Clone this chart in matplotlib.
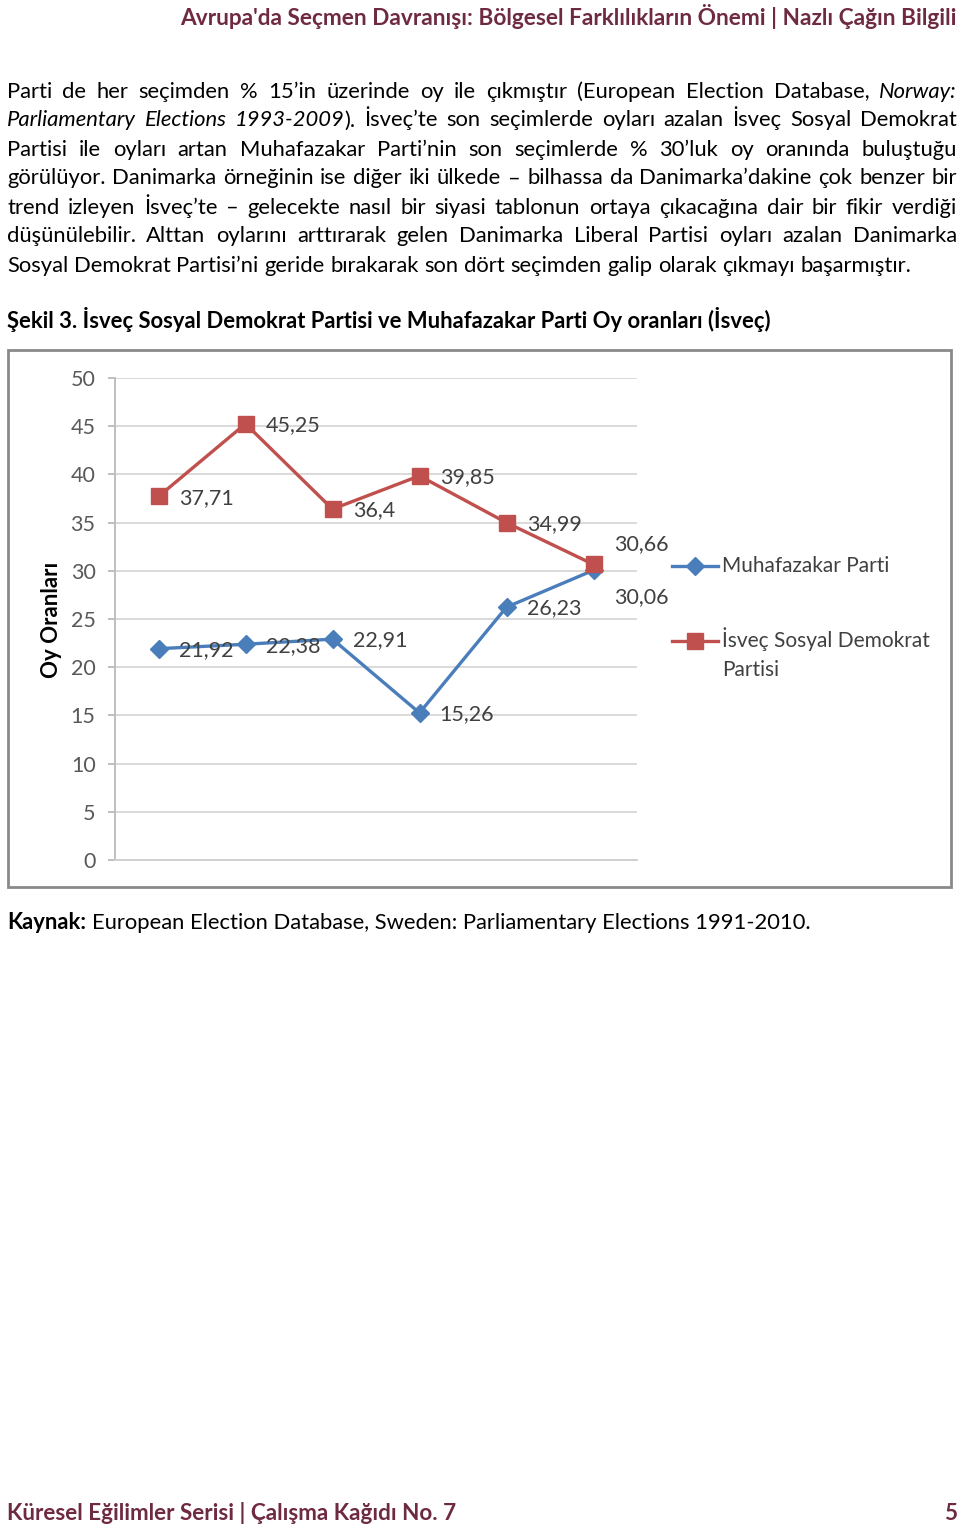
import matplotlib.pyplot as plt
from matplotlib.lines import Line2D
from matplotlib.patches import Rectangle

plt.rcParams['font.family'] = ['Lato', 'DejaVu Sans']

# election years (no x labels are shown in the chart)
secim = ['1991', '1994', '1998', '2002', '2006', '2010']
muhafazakar = [21.92, 22.38, 22.91, 15.26, 26.23, 30.06]
sosyal_demokrat = [37.71, 45.25, 36.4, 39.85, 34.99, 30.66]
y_ticks = [0, 5, 10, 15, 20, 25, 30, 35, 40, 45, 50]

header = "Avrupa'da Seçmen Davranışı: Bölgesel Farklılıkların Önemi | Nazlı Çağın Bilgili"
# _text_ = italic
body = [
    "Parti de her seçimden % 15’in üzerinde oy ile çıkmıştır (European Election Database, _Norway:_",
    "_Parliamentary_ _Elections_ _1993-2009_). İsveç’te son seçimlerde oyları azalan İsveç Sosyal Demokrat",
    "Partisi ile oyları artan Muhafazakar Parti’nin son seçimlerde % 30’luk oy oranında buluştuğu",
    "görülüyor. Danimarka örneğinin ise diğer iki ülkede – bilhassa da Danimarka’dakine çok benzer bir",
    "trend izleyen İsveç’te – gelecekte nasıl bir siyasi tablonun ortaya çıkacağına dair bir fikir verdiği",
    "düşünülebilir. Alttan oylarını arttırarak gelen Danimarka Liberal Partisi oyları azalan Danimarka",
    "Sosyal Demokrat Partisi’ni geride bırakarak son dört seçimden galip olarak çıkmayı başarmıştır.",
]
caption = "Şekil 3. İsveç Sosyal Demokrat Partisi ve Muhafazakar Parti Oy oranları (İsveç)"
kaynak = "European Election Database, Sweden: Parliamentary Elections 1991-2010."
footer = "Küresel Eğilimler Serisi | Çalışma Kağıdı No. 7"

maroon = '#6e2a41'
blue = '#4a7ebb'
red = '#c0504d'

W, H = 960, 1533
fig = plt.figure(figsize=(W / 100, H / 100), dpi=100)
fig.patch.set_facecolor('white')
rend = fig.canvas.get_renderer()


def fx(x):
    return x / W


def fy(y):
    return 1 - y / H


def text_w(s, **kw):
    t = fig.text(0, 0, s, **kw)
    w = t.get_window_extent(rend).width
    t.remove()
    return w


def fit(s, target, **kw):
    return 10 * target / text_w(s, fontsize=10, **kw)


def draw_line(line, y, size, justify=True):
    words = []
    for w in line.split(' '):
        parts = w.split('_')
        words.append([(p, 'italic' if k % 2 else 'normal') for k, p in enumerate(parts) if p])
    widths = [[text_w(p, fontsize=size, style=st) for p, st in segs] for segs in words]
    total = sum(sum(ws) for ws in widths)
    if justify:
        gap = (957 - 7 - total) / (len(words) - 1)
    else:
        gap = text_w('a a', fontsize=size) - text_w('aa', fontsize=size)
    x = 7
    for segs, ws in zip(words, widths):
        for (p, st), w in zip(segs, ws):
            fig.text(fx(x), fy(y), p, fontsize=size, style=st, va='baseline', color='black')
            x += w
        x += gap


# header
hs = fit(header, 780, weight='bold')
fig.text(fx(957), fy(25), header, fontsize=hs, weight='bold', color=maroon, ha='right', va='baseline')

# paragraph
bs = fit(body[-1], 908)
for i, line in enumerate(body):
    draw_line(line, 97.5 + 29 * i, bs, justify=(i < len(body) - 1))

# figure caption
cs = fit(caption, 762, weight='bold')
fig.text(fx(7), fy(328), caption, fontsize=cs, weight='bold', va='baseline')

# chart frame
fig.add_artist(Rectangle((fx(8), fy(887)), fx(951) - fx(8), fy(350) - fy(887),
                         transform=fig.transFigure, fill=False, ec='#8a8a8a', lw=2))

ax = fig.add_axes([fx(115), fy(860), fx(637) - fx(115), fy(378) - fy(860)])
x = list(range(len(secim)))
ax.plot(x, muhafazakar, color=blue, lw=2.4, marker='D', ms=9, label='Muhafazakar Parti')
ax.plot(x, sosyal_demokrat, color=red, lw=2.4, marker='s', ms=12, label='İsveç Sosyal Demokrat Partisi')

ax.set_xlim(-0.5, len(secim) - 0.5)
ax.set_ylim(0, 50)
ax.set_yticks(y_ticks)
ax.set_xticks([])
ax.yaxis.grid(True, color='#d9d9d9', lw=1.4)
ax.set_axisbelow(True)
for s in ['top', 'right']:
    ax.spines[s].set_visible(False)
ax.spines['left'].set_color('#bfbfbf')
ax.spines['bottom'].set_color('#d0d0d0')
ax.spines['left'].set_linewidth(1.4)
ax.spines['bottom'].set_linewidth(1.4)
ax.tick_params(axis='y', length=5, width=1.4, color='#bfbfbf', pad=9,
               labelsize=15.5, labelcolor='#595959')

# data labels
for series, last_dy in [(muhafazakar, -19), (sosyal_demokrat, 15)]:
    for i, v in enumerate(series):
        dy = last_dy if i == len(series) - 1 else -1
        ax.annotate(str(v).replace('.', ','), (i, v), xytext=(14.5, dy), textcoords='offset points',
                    ha='left', va='center', fontsize=15.5, color='#404040')

fig.text(fx(51), fy(620), 'Oy Oranları', rotation=90, ha='center', va='center',
         fontsize=16, weight='bold')

# legend
for y, color, marker, ms, lines in [(566, blue, 'D', 9, ['Muhafazakar Parti']),
                                     (641, red, 's', 12, ['İsveç Sosyal Demokrat', 'Partisi'])]:
    fig.add_artist(Line2D([fx(672), fx(718)], [fy(y), fy(y)], color=color, lw=2.4,
                          transform=fig.transFigure))
    fig.add_artist(Line2D([fx(695)], [fy(y)], marker=marker, ms=ms, color=color,
                          transform=fig.transFigure))
    for k, t in enumerate(lines):
        fig.text(fx(722), fy(y + 29 * k + 6), t, fontsize=15, color='#404040', va='baseline')

# source line
ks = bs
kw = text_w('Kaynak:', fontsize=ks, weight='bold')
sp = text_w('a a', fontsize=ks) - text_w('aa', fontsize=ks)
fig.text(fx(7), fy(929), 'Kaynak:', fontsize=ks, weight='bold', va='baseline')
fig.text(fx(7 + kw + sp), fy(929), kaynak, fontsize=ks, va='baseline')

# footer
fs = fit(footer, 450, weight='bold')
fig.text(fx(7), fy(1520), footer, fontsize=fs, weight='bold', color=maroon, va='baseline')
fig.text(fx(957), fy(1520), '5', fontsize=fs, weight='bold', color=maroon, ha='right', va='baseline')

fig.savefig('out.png', dpi=100, facecolor='white')
